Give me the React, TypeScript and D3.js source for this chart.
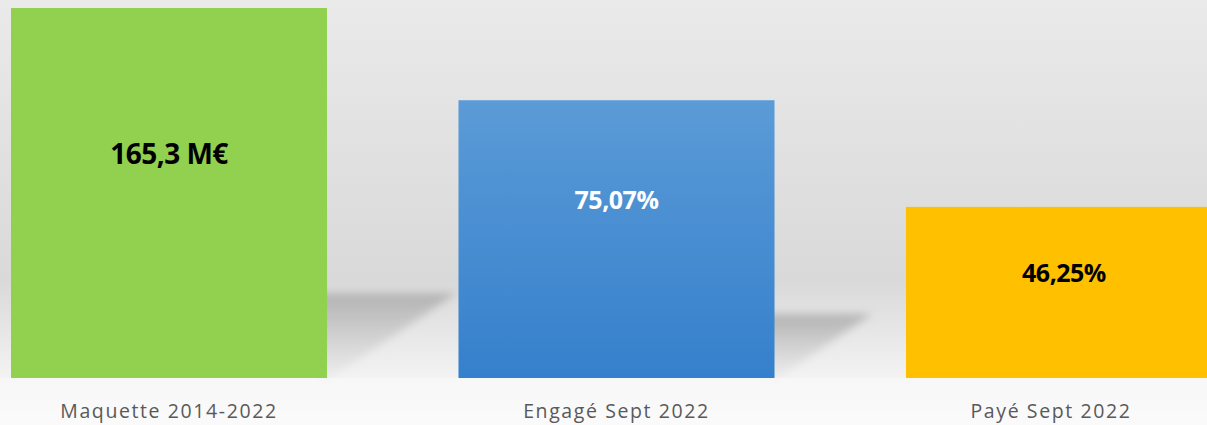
import React from "react";
import * as d3 from "d3";

const categories = ["Maquette 2014-2022", "Engagé Sept 2022", "Payé Sept 2022"];
const values = [100, 75.07, 46.25];
const valueLabels = ["165,3 M€", "75,07%", "46,25%"];

const W = 1207;
const H = 425;
const baseY = 378;

// styling (not data)
const fills = ["#92d050", "url(#blueGrad)", "#ffc000"];
const textColors = ["#000000", "#ffffff", "#000000"];
const valueFontSizes = [28, 25, 25];
const valueLabelFrac = [0.392, 0.356, 0.38];
const catLabelShift = [0, 0, -13];

export default function App() {
  const x = d3.scaleBand<string>().domain(categories).range([11, 1222]).paddingInner(0.2938).paddingOuter(0);
  const y = d3.scaleLinear().domain([0, 100]).range([baseY, 8]);
  const bw = x.bandwidth();

  return (
    <div style={{ position: "fixed", left: 0, top: 0, width: W, height: H }}>
      <svg width={W} height={H} style={{ display: "block" }}>
        <defs>
          <linearGradient id="bg" x1="0" y1="0" x2="0" y2="1">
            <stop offset="0" stopColor="#eaeaea" />
            <stop offset="0.66" stopColor="#d9d9d9" />
            <stop offset="0.89" stopColor="#f3f3f3" />
            <stop offset="1" stopColor="#fbfbfb" />
          </linearGradient>
          <linearGradient id="blueGrad" x1="0" y1="0" x2="0" y2="1">
            <stop offset="0" stopColor="#5b9bd7" />
            <stop offset="1" stopColor="#3580cc" />
          </linearGradient>
          <linearGradient id="shadowGrad" x1="0" y1="0" x2="0" y2="1">
            <stop offset="0" stopColor="#b0b0b0" stopOpacity="0.95" />
            <stop offset="1" stopColor="#c8c8c8" stopOpacity="0.1" />
          </linearGradient>
          <filter id="blur" x="-20%" y="-20%" width="140%" height="140%">
            <feGaussianBlur stdDeviation="4" />
          </filter>
        </defs>
        <rect x={0} y={0} width={W} height={H} fill="url(#bg)" />
        {categories.map((c, i) => {
          const x1 = (x(c) as number) + bw;
          const h = baseY - y(values[i]);
          const dx = 0.35 * h;
          const dy = 0.23 * h;
          const pts = [
            [x1 - 10, baseY - dy],
            [x1 + dx, baseY - dy],
            [x1, baseY + 2],
            [x1 - 10, baseY + 2],
          ];
          return (
            <polygon
              key={"s" + c}
              points={pts.map((p) => p.join(",")).join(" ")}
              fill="url(#shadowGrad)"
              filter="url(#blur)"
            />
          );
        })}
        <rect x={0} y={baseY} width={W} height={H - baseY} fill="#fafafa" opacity={0.6} />
        {categories.map((c, i) => (
          <rect
            key={"b" + c}
            x={x(c)}
            y={y(values[i])}
            width={bw}
            height={baseY - y(values[i])}
            fill={fills[i]}
          />
        ))}
        {categories.map((c, i) => {
          const top = y(values[i]);
          const h = baseY - top;
          return (
            <text
              key={"v" + c}
              x={(x(c) as number) + bw / 2}
              y={top + valueLabelFrac[i] * h}
              dominantBaseline="central"
              textAnchor="middle"
              fontFamily="'Open Sans', sans-serif"
              fontWeight="bold"
              fontSize={valueFontSizes[i]}
              letterSpacing={-0.5}
              fill={textColors[i]}
            >
              {valueLabels[i]}
            </text>
          );
        })}
        {categories.map((c, i) => (
          <text
            key={"l" + c}
            x={(x(c) as number) + bw / 2 + catLabelShift[i]}
            y={410}
            dominantBaseline="central"
            textAnchor="middle"
            fontFamily="'Open Sans', sans-serif"
            fontSize={19.5}
            letterSpacing={1.6}
            fill="#595959"
          >
            {c}
          </text>
        ))}
      </svg>
    </div>
  );
}
